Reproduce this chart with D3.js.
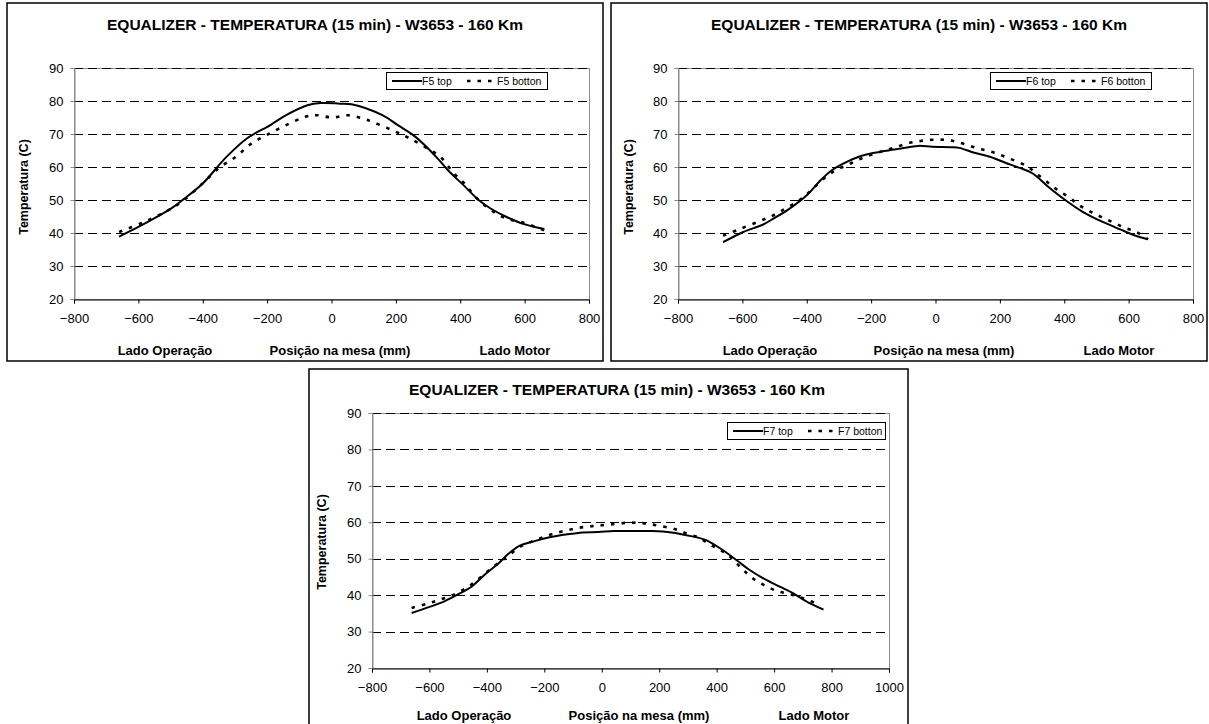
<!DOCTYPE html>
<html>
<head>
<meta charset="utf-8">
<script src="https://cdn.jsdelivr.net/npm/d3@7"></script>
<style>
  body { margin: 0; background: #fff; }
  text { font-family: "Liberation Sans", Arial, sans-serif; fill: #000; }
</style>
</head>
<body>
<svg id="chart" width="1209" height="724"></svg>
<script>
// ---- texts and ticks ----
const titleText = "EQUALIZER - TEMPERATURA (15 min) - W3653 - 160 Km";
const yAxisTitle = "Temperatura (C)";
const bottomLabels = ["Lado Operação", "Posição na mesa (mm)", "Lado Motor"];
const yTicks = [20, 30, 40, 50, 60, 70, 80, 90];
const xTicksShort = [-800, -600, -400, -200, 0, 200, 400, 600, 800];
const xTicksLong = [-800, -600, -400, -200, 0, 200, 400, 600, 800, 1000];

// ---- F5 stand ----
const f5TopPos  = [-660, -597, -537, -500, -460, -400, -327, -261, -190, -141, -75, -34, 26, 62, 158, 206, 260, 326, 362, 410, 457, 493, 541, 601, 661];
const f5TopTemp = [38.9, 42.0, 45.2, 47.3, 50.2, 55.0, 63.0, 68.8, 72.7, 75.7, 78.7, 79.4, 79.2, 79.0, 75.7, 72.7, 69.2, 63.0, 59.0, 54.5, 50.0, 47.5, 45.0, 42.6, 41.2];
const f5BotPos  = [-660, -585, -514, -465, -405, -351, -297, -249, -201, -141, -81, -46, 2, 50, 98, 134, 206, 242, 290, 338, 380, 410, 457, 529, 601, 661];
const f5BotTemp = [40.3, 43.2, 46.5, 49.5, 54.6, 59.6, 63.1, 67.1, 69.7, 72.7, 75.2, 75.7, 75.0, 75.7, 74.7, 73.4, 70.4, 68.7, 66.1, 63.1, 58.1, 55.3, 50.0, 45.0, 43.0, 40.8];

// ---- F6 stand ----
const f6TopPos  = [-660, -597, -537, -501, -459, -399, -357, -321, -279, -238, -190, -142, -94, -52, -10, 50, 74, 121, 169, 217, 259, 301, 349, 403, 456, 516, 576, 624, 660];
const f6TopTemp = [37.2, 40.3, 42.5, 44.5, 47.0, 51.5, 56.0, 59.1, 61.4, 63.1, 64.3, 65.1, 65.8, 66.4, 66.1, 66.0, 65.8, 64.3, 63.1, 61.3, 59.8, 58.1, 54.1, 50.0, 46.5, 43.5, 41.0, 39.1, 38.1];
const f6BotPos  = [-660, -608, -549, -507, -465, -429, -399, -375, -339, -309, -273, -238, -202, -166, -130, -88, -46, 2, 44, 85, 133, 181, 229, 283, 319, 349, 379, 415, 445, 481, 516, 552, 588, 624, 660];
const f6BotTemp = [39.2, 41.2, 43.5, 45.2, 47.5, 49.5, 51.8, 54.0, 57.1, 59.1, 60.6, 62.3, 63.6, 64.8, 65.8, 67.1, 67.9, 68.3, 68.1, 67.1, 65.6, 64.4, 62.6, 60.3, 57.6, 55.3, 53.0, 50.8, 48.5, 46.5, 44.8, 43.2, 41.6, 40.3, 38.1];

// ---- F7 stand ----
const f7TopPos  = [-662, -602, -548, -501, -454, -401, -361, -327, -287, -240, -186, -119, -66, -12, 42, 122, 176, 243, 310, 363, 417, 471, 511, 558, 605, 659, 712, 772];
const f7TopTemp = [35.1, 36.7, 38.3, 40.2, 42.3, 46.1, 48.6, 51.2, 53.5, 54.7, 55.8, 56.7, 57.2, 57.3, 57.6, 57.6, 57.6, 57.2, 56.2, 55.1, 52.6, 49.5, 47.1, 44.8, 42.9, 40.8, 38.3, 36.0];
const f7BotPos  = [-662, -609, -562, -508, -454, -407, -367, -327, -280, -233, -186, -133, -79, -25, 28, 95, 149, 202, 256, 296, 337, 370, 403, 437, 471, 497, 531, 571, 611, 659, 712, 759];
const f7BotTemp = [36.5, 37.6, 38.8, 40.4, 42.9, 45.9, 48.4, 50.7, 53.5, 55.0, 56.4, 57.6, 58.5, 59.0, 59.4, 59.9, 59.7, 59.0, 58.1, 56.9, 55.8, 54.2, 52.8, 51.2, 48.6, 46.6, 44.3, 42.5, 41.1, 40.2, 38.8, 37.4];

const svg = d3.select("#chart");

function zip(xs, ys) { return xs.map((x, i) => ({ x, y: ys[i] })); }

function drawPanel(cfg) {
  const g = svg.append("g");

  // outer frame of the chart
  g.append("rect")
    .attr("x", cfg.frame[0]).attr("y", cfg.frame[1])
    .attr("width", cfg.frame[2]).attr("height", cfg.frame[3])
    .attr("fill", "#fff").attr("stroke", "#000").attr("stroke-width", 1.5);

  const x = d3.scaleLinear().domain([cfg.xTicks[0], cfg.xTicks[cfg.xTicks.length - 1]]).range([cfg.plot[0], cfg.plot[1]]);
  const y = d3.scaleLinear().domain([20, 90]).range([cfg.plot[3], cfg.plot[2]]);

  // plot-area border
  g.append("rect")
    .attr("x", cfg.plot[0] + 0.5).attr("y", cfg.plot[2] + 0.5)
    .attr("width", cfg.plot[1] - cfg.plot[0]).attr("height", cfg.plot[3] - cfg.plot[2])
    .attr("fill", "none").attr("stroke", "#8c8c8c").attr("stroke-width", 1);

  // dashed horizontal gridlines
  g.append("g").selectAll("line")
    .data(yTicks.filter(v => v > 20))
    .join("line")
    .attr("x1", cfg.plot[0]).attr("x2", cfg.plot[1])
    .attr("y1", d => Math.round(y(d)) + 0.5).attr("y2", d => Math.round(y(d)) + 0.5)
    .attr("stroke", "#000").attr("stroke-width", 1)
    .attr("stroke-dasharray", "9,5");

  // y axis
  const yAxis = d3.axisLeft(y).tickValues(yTicks).tickSize(4).tickPadding(7).tickFormat(d3.format("d"));
  const ya = g.append("g").attr("transform", `translate(${cfg.plot[0] + 0.5},0)`).call(yAxis);
  ya.select(".domain").attr("stroke", "#8c8c8c");
  ya.selectAll(".tick line").attr("stroke", "#8c8c8c");
  ya.selectAll("text").attr("font-size", 13).attr("font-family", '"Liberation Sans", Arial, sans-serif');

  // x axis
  const xAxis = d3.axisBottom(x).tickValues(cfg.xTicks).tickSize(4).tickSizeOuter(4).tickPadding(10).tickFormat(d3.format("d"));
  const xa = g.append("g").attr("transform", `translate(0,${cfg.plot[3] + 0.5})`).call(xAxis);
  xa.select(".domain").attr("stroke", "#000");
  xa.selectAll("text").attr("font-size", 13).attr("font-family", '"Liberation Sans", Arial, sans-serif');

  // series (smoothed like the spreadsheet's smoothed lines)
  const line = d3.line().x(d => x(d.x)).y(d => y(d.y)).curve(d3.curveCatmullRom.alpha(0.5));
  g.append("path").datum(zip(cfg.botPos, cfg.botTemp))
    .attr("d", line).attr("fill", "none").attr("stroke", "#000")
    .attr("stroke-width", 2.6).attr("stroke-dasharray", "3.5,7");
  g.append("path").datum(zip(cfg.topPos, cfg.topTemp))
    .attr("d", line).attr("fill", "none").attr("stroke", "#000")
    .attr("stroke-width", 2);

  // title
  g.append("text").attr("x", cfg.title[0]).attr("y", cfg.title[1])
    .attr("text-anchor", "middle").attr("font-weight", "bold").attr("font-size", 15.5)
    .text(titleText);

  // y axis title
  g.append("text")
    .attr("transform", `translate(${cfg.yTitle[0]},${cfg.yTitle[1]}) rotate(-90)`)
    .attr("text-anchor", "middle").attr("dominant-baseline", "central")
    .attr("font-weight", "bold").attr("font-size", 12.5)
    .text(yAxisTitle);

  // labels under the x axis
  g.append("g").selectAll("text")
    .data(bottomLabels)
    .join("text")
    .attr("x", (d, i) => cfg.bottomX[i]).attr("y", cfg.bottomY)
    .attr("text-anchor", "middle").attr("font-weight", "bold").attr("font-size", 13)
    .text(d => d);

  // legend
  const lg = g.append("g").attr("transform", `translate(${cfg.legend[0]},${cfg.legend[1]})`);
  lg.append("rect").attr("x", 0.5).attr("y", 0.5).attr("width", cfg.legend[2]).attr("height", cfg.legend[3])
    .attr("fill", "#fff").attr("stroke", "#000").attr("stroke-width", 1);
  const my = cfg.legend[3] / 2 + 0.5;
  lg.append("line").attr("x1", 6).attr("x2", 36).attr("y1", my).attr("y2", my)
    .attr("stroke", "#000").attr("stroke-width", 2);
  lg.append("text").attr("x", 36).attr("y", my).attr("dominant-baseline", "central")
    .attr("font-size", 10.5).text(cfg.names[0]);
  lg.append("line").attr("x1", 81).attr("x2", 111).attr("y1", my).attr("y2", my)
    .attr("stroke", "#000").attr("stroke-width", 2.6).attr("stroke-dasharray", "3.5,7");
  lg.append("text").attr("x", 111).attr("y", my).attr("dominant-baseline", "central")
    .attr("font-size", 10.5).text(cfg.names[1]);
}

drawPanel({
  frame: [7, 3, 596, 358], plot: [74, 589, 68, 299], xTicks: xTicksShort,
  title: [315, 30], yTitle: [24, 187], bottomX: [165, 340, 515], bottomY: 355,
  legend: [386, 72, 161, 17], names: ["F5 top", "F5 botton"],
  topPos: f5TopPos, topTemp: f5TopTemp, botPos: f5BotPos, botTemp: f5BotTemp
});

drawPanel({
  frame: [611, 3, 596, 358], plot: [678, 1193, 68, 299], xTicks: xTicksShort,
  title: [919, 30], yTitle: [629, 187], bottomX: [770, 944, 1119], bottomY: 355,
  legend: [990, 72, 161, 17], names: ["F6 top", "F6 botton"],
  topPos: f6TopPos, topTemp: f6TopTemp, botPos: f6BotPos, botTemp: f6BotTemp
});

drawPanel({
  frame: [309, 369, 599, 400], plot: [372, 889, 413, 668], xTicks: xTicksLong,
  title: [617, 395], yTitle: [322, 542], bottomX: [464, 639, 814], bottomY: 720,
  legend: [727, 422, 158, 17], names: ["F7 top", "F7 botton"],
  topPos: f7TopPos, topTemp: f7TopTemp, botPos: f7BotPos, botTemp: f7BotTemp
});
</script>
</body>
</html>
